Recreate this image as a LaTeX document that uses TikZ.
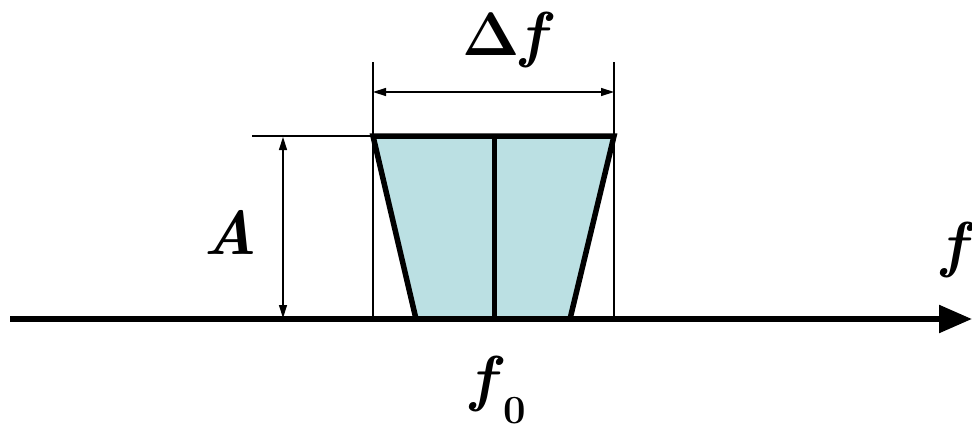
\documentclass[tikz,border=0pt]{standalone}
\usepackage{graphicx}
\usetikzlibrary{arrows.meta}
\definecolor{bandfill}{HTML}{BBE0E3}
\tikzset{
  thin line/.style={line width=1.4pt, black},
  dim arrow/.style={line width=1.4pt, {Triangle[length=13pt,width=8pt]}-{Triangle[length=13pt,width=8pt]}},
  band/.style={line width=5.5pt, line join=miter, fill=bandfill},
  axis/.style={line width=5.5pt, -{Triangle[length=33pt,width=27pt]}},
  lbl/.style={inner sep=0pt, font=\fontsize{62}{72}\selectfont\bfseries}
}
\begin{document}
\begin{tikzpicture}[x=1pt,y=-1pt]
\useasboundingbox (0,0) rectangle (972,426);
% coordinates
\coordinate (tl) at (373,136);
\coordinate (tr) at (614,136);
\coordinate (bl) at (416,319);
\coordinate (br) at (570,319);
\coordinate (mt) at (494,136);
\coordinate (mb) at (494,319);
\coordinate (ax0) at (10,319);
\coordinate (ax1) at (972,319);
% thin extension lines
\coordinate (el1) at (373,62);
\coordinate (el2) at (614,62);
\coordinate (el1b) at (373,319);
\coordinate (el2b) at (614,319);
\draw[thin line] (el1) -- (el1b);
\draw[thin line] (el2) -- (el2b);
\coordinate (ha) at (252,136);
\draw[thin line] (ha) -- (tl);
% band
\draw[band] (tl) -- (tr) -- (br) -- (bl) -- cycle;
\draw[line width=5pt] (mt) -- (mb);
% dimension arrows
\coordinate (d1) at (373,92);
\coordinate (d2) at (614,92);
\draw[dim arrow] (d1) -- (d2);
\coordinate (a1) at (283,137);
\coordinate (a2) at (283,318);
\draw[dim arrow] (a1) -- (a2);
% axis
\draw[axis] (ax0) -- (ax1);
% labels
\node[lbl] (df) at (508,40) {\resizebox{!}{42pt}{$\mathbf{\Delta}$}\textit{f}};
\node[lbl] (A) at (230,232) {\textit{A}};
\node[lbl] (f) at (958,250) {\textit{f}};
\node[lbl] (f0) at (498,390) {\textit{f}\raisebox{-0.4em}{\fontsize{40}{48}\selectfont 0}};
\end{tikzpicture}
\end{document}
